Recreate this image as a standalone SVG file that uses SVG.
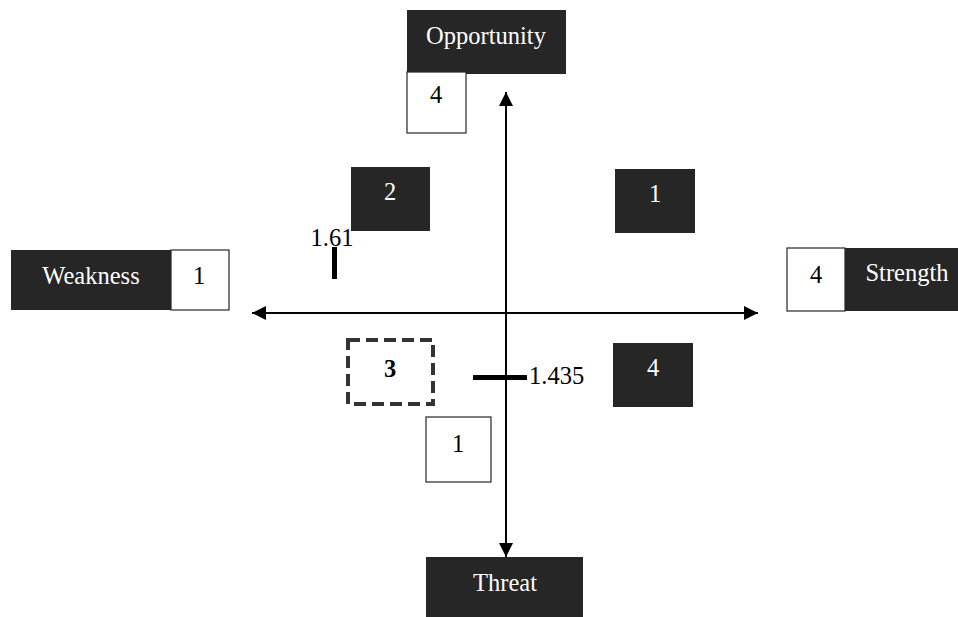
<svg xmlns="http://www.w3.org/2000/svg" width="958" height="617" viewBox="0 0 958 617">
<style>
.dark{fill:#262626;}
.white{fill:#ffffff;stroke:#262626;stroke-width:1.2;}
.t{font-family:"Liberation Serif","Times New Roman",serif;font-size:24.5px;text-anchor:middle;}
.tw{fill:#ffffff;}
.tb{fill:#000000;}
.st{text-anchor:start;}
.ax{stroke:#000;stroke-width:2;fill:none;}
</style>
<defs>
<marker id="ah" viewBox="0 0 14 14" refX="14" refY="7" markerWidth="14" markerHeight="14" markerUnits="userSpaceOnUse" orient="auto">
<path d="M0,0 L14,7 L0,14 Z" fill="#000"/>
</marker>
</defs>
<rect width="958" height="617" fill="#ffffff"/>
<g id="connectors">
<line class="ax" x1="506" y1="313" x2="506" y2="92" marker-end="url(#ah)"/>
<line class="ax" x1="506" y1="313" x2="506" y2="557" marker-end="url(#ah)"/>
<line class="ax" x1="506" y1="313" x2="252" y2="313" marker-end="url(#ah)"/>
<line class="ax" x1="506" y1="313" x2="758" y2="313" marker-end="url(#ah)"/>
</g>
<g id="opportunity">
<rect class="dark" x="407" y="10" width="159" height="64"/>
<text class="t tw" x="486" y="44">Opportunity</text>
</g>
<g id="opp-score">
<rect class="white" x="407" y="72" width="59" height="61"/>
<text class="t tb" x="436" y="103">4</text>
</g>
<g id="threat">
<rect class="dark" x="426" y="557" width="157" height="60"/>
<text class="t tw" x="505" y="591">Threat</text>
</g>
<g id="weakness">
<rect class="dark" x="11" y="250" width="160" height="60"/>
<text class="t tw" x="91" y="284">Weakness</text>
</g>
<g id="weak-score">
<rect class="white" x="171" y="250" width="58" height="60"/>
<text class="t tb" x="199" y="284">1</text>
</g>
<g id="strength">
<rect class="dark" x="845" y="248" width="113" height="63"/>
<text class="t tw" x="907" y="281">Strength</text>
</g>
<g id="strength-score">
<rect class="white" x="787" y="248" width="58" height="63"/>
<text class="t tb" x="816" y="283">4</text>
</g>
<g id="q2">
<rect class="dark" x="351" y="167" width="79" height="64"/>
<text class="t tw" x="390" y="200">2</text>
</g>
<g id="q1">
<rect class="dark" x="615" y="169" width="80" height="64"/>
<text class="t tw" x="655" y="202">1</text>
</g>
<g id="q4">
<rect class="dark" x="613" y="343" width="80" height="64"/>
<text class="t tw" x="653" y="376">4</text>
</g>
<g id="q3">
<rect x="348" y="340" width="85" height="64" fill="none" stroke="#333" stroke-width="4" stroke-dasharray="12,6"/>
<text class="t tb" x="390" y="377" font-weight="bold">3</text>
</g>
<g id="threat-score">
<rect class="white" x="426" y="417" width="65" height="65"/>
<text class="t tb" x="458" y="452">1</text>
</g>
<g id="mark-161">
<rect x="332" y="247" width="5" height="32" fill="#000"/>
<text class="t tb" x="332" y="246">1.61</text>
</g>
<g id="mark-1435">
<rect x="473" y="375" width="54" height="5" fill="#000"/>
<text class="t tb st" x="529" y="384">1.435</text>
</g>
</svg>
